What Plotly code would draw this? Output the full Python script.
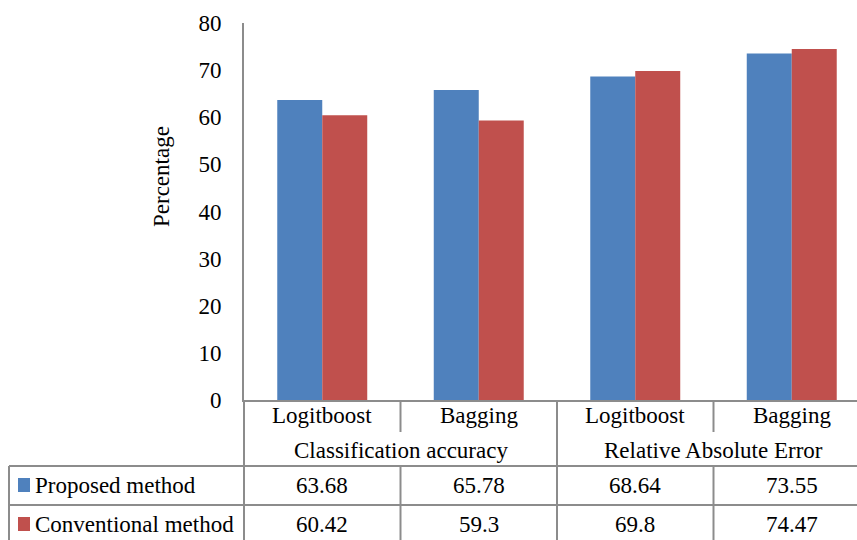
import plotly.graph_objects as go

# ---- data ----
categories = ["Logitboost", "Bagging", "Logitboost", "Bagging"]
groups = ["Classification accuracy", "Relative Absolute Error"]
group_of = [0, 0, 1, 1]
series_names = ["Proposed method", "Conventional method"]
proposed = [63.68, 65.78, 68.64, 73.55]
conventional = [60.42, 59.3, 69.8, 74.47]
y_ticks = [0, 10, 20, 30, 40, 50, 60, 70, 80]
y_title = "Percentage"

# ---- styling / layout constants ----
W, H = 857, 540
L, R, T, B = 244, 0, 23, 140
CAT_W = 156.5  # pixel width of one category
colors = ["#4F81BD", "#C0504D"]
line_col = "#8c8c8c"
FONT = "Liberation Serif"
FS = 23

plot_w = W - L - R
plot_h = H - T - B
x_lo = -0.5
x_hi = x_lo + plot_w / CAT_W


def xp_data(x):
    return (x - x_lo) / (x_hi - x_lo)


def xp_px(px):
    return (px - L) / plot_w


def yp_px(py):
    return (H - B - py) / plot_h


xs = list(range(len(categories)))
fig = go.Figure()
for name, vals, col in zip(series_names, [proposed, conventional], colors):
    fig.add_trace(go.Bar(x=xs, y=vals, name=name, marker=dict(color=col, line=dict(width=0)),
                         showlegend=False, hoverinfo="skip"))

shapes = []
ann = []


def hline(py, px0, px1):
    shapes.append(dict(type="line", xref="paper", yref="paper", x0=xp_px(px0), x1=xp_px(px1),
                       y0=yp_px(py), y1=yp_px(py), line=dict(color=line_col, width=2)))


def vline(xpaper, py0, py1):
    shapes.append(dict(type="line", xref="paper", yref="paper", x0=xpaper, x1=xpaper,
                       y0=yp_px(py0), y1=yp_px(py1), line=dict(color=line_col, width=2)))


ROW1_TOP, ROW2_TOP, BOTTOM = 466, 505, 545
INNER_BOTTOM = 432
# table horizontals
hline(ROW1_TOP, 9, W + 5)
hline(ROW2_TOP, 9, W + 5)
# left edge of table
vline(xp_px(9), ROW1_TOP, BOTTOM)
# y-axis extension down through table
vline(0, H - B, BOTTOM)
# category boundaries
for i in range(len(categories) - 1):
    b = i + 0.5
    xb = xp_data(b)
    if group_of[i] != group_of[i + 1]:
        vline(xb, H - B, BOTTOM)
    else:
        vline(xb, H - B, INNER_BOTTOM)
        vline(xb, ROW1_TOP, BOTTOM)

# inner category labels
for i, c in enumerate(categories):
    ann.append(dict(x=i, xref="x", y=yp_px(415), yref="paper", text=c, showarrow=False,
                    xanchor="center", yanchor="middle", font=dict(family=FONT, size=FS, color="black")))
# group labels
for g, name in enumerate(groups):
    idx = [i for i in range(len(categories)) if group_of[i] == g]
    cx = (min(idx) + max(idx)) / 2
    ann.append(dict(x=cx, xref="x", y=yp_px(450), yref="paper", text=name, showarrow=False,
                    xanchor="center", yanchor="middle", font=dict(family=FONT, size=FS, color="black")))

# table rows
row_y = [485, 524]
for r, (name, vals, col) in enumerate(zip(series_names, [proposed, conventional], colors)):
    py = row_y[r]
    shapes.append(dict(type="rect", xref="paper", yref="paper", x0=xp_px(18), x1=xp_px(30),
                       y0=yp_px(py + 7), y1=yp_px(py - 7), fillcolor=col, line=dict(width=0)))
    ann.append(dict(x=xp_px(33), xref="paper", y=yp_px(py), yref="paper", text=name, showarrow=False,
                    xanchor="left", yanchor="middle", font=dict(family=FONT, size=FS, color="black")))
    for i, v in enumerate(vals):
        ann.append(dict(x=i, xref="x", y=yp_px(py), yref="paper", text=f"{v:g}", showarrow=False,
                        xanchor="center", yanchor="middle", font=dict(family=FONT, size=FS, color="black")))

# y-axis title
ann.append(dict(x=xp_px(162), xref="paper", y=yp_px(177), yref="paper", text=y_title, showarrow=False,
                textangle=-90, xanchor="center", yanchor="middle",
                font=dict(family=FONT, size=FS, color="black")))

fig.update_layout(
    width=W, height=H,
    margin=dict(l=L, r=R, t=T, b=B, pad=0),
    paper_bgcolor="white", plot_bgcolor="white",
    barmode="group", bargap=0.425, bargroupgap=0,
    font=dict(family=FONT, size=FS, color="black"),
    xaxis=dict(range=[x_lo, x_hi], showticklabels=False, showgrid=False, zeroline=False,
               showline=True, linecolor=line_col, linewidth=2, ticks=""),
    yaxis=dict(range=[0, 80], tickvals=y_ticks, showgrid=False, zeroline=False,
               showline=True, linecolor=line_col, linewidth=2, ticks="",
               ticklabelstandoff=16, tickfont=dict(family=FONT, size=FS, color="black")),
    shapes=shapes, annotations=ann,
)

fig.write_html("out.html", config={"displayModeBar": False},
               post_script="document.body.style.margin='0px';document.body.style.overflow='hidden';")
